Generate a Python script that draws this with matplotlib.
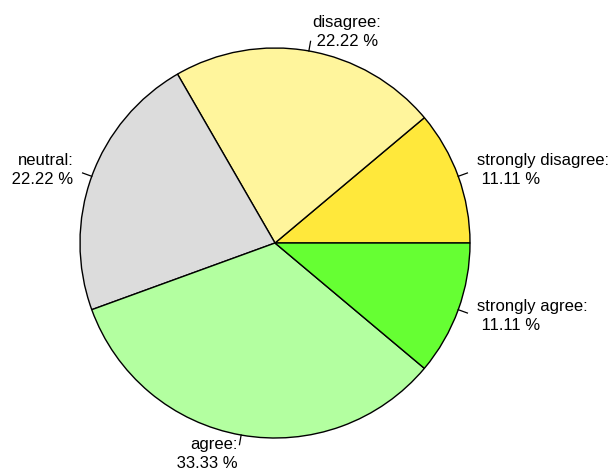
import numpy as np
import matplotlib.pyplot as plt

# Antworten (Anzahl), Reihenfolge wie im Kreis gegen den Uhrzeigersinn ab 0 Grad
categories = ["strongly disagree", "disagree", "neutral", "agree", "strongly agree"]
counts = [1, 2, 2, 3, 1]
colors = ["#FFE83B", "#FFF59C", "#DCDCDC", "#B3FFA0", "#66FF33"]

pct = 100 * np.array(counts) / sum(counts)
labels = ["%s:\n %.2f %%" % (c, p) for c, p in zip(categories, pct)]

fig = plt.figure(figsize=(6.12, 4.72), dpi=100)
ax = fig.add_axes([0, 0, 1, 1])

cx, cy, r = 275, 229, 195
wedges, _ = ax.pie(counts, colors=colors, startangle=0, counterclock=True,
                   center=(cx, cy), radius=r, frame=True,
                   wedgeprops=dict(edgecolor="black", linewidth=1.0))
ax.set_xlim(0, 612)
ax.set_ylim(0, 472)
ax.set_aspect("equal")
ax.axis("off")

for w, lab in zip(wedges, labels):
    ang = np.deg2rad((w.theta1 + w.theta2) / 2)
    dx, dy = np.cos(ang), np.sin(ang)
    # kleiner Strich wie bei R
    ax.plot([cx + r * dx, cx + 1.05 * r * dx], [cy + r * dy, cy + 1.05 * r * dy],
            color="black", lw=0.9)
    ha = "left" if dx > 0 else "right"
    ax.text(cx + 1.1 * r * dx, cy + 1.1 * r * dy, lab, ha=ha, va="center",
            multialignment=ha, fontsize=12, family="Liberation Sans",
            linespacing=1.35)

fig.savefig("out.png", dpi=100)
